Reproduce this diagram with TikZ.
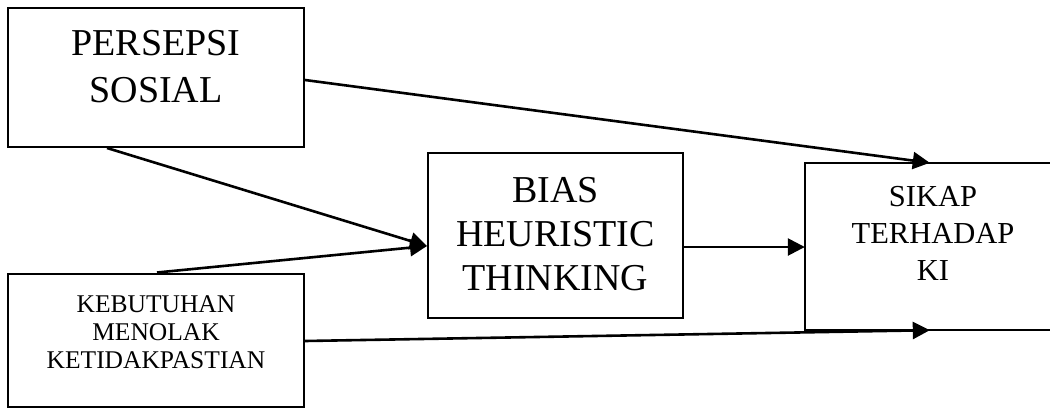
\documentclass[tikz,border=0pt]{standalone}
\usepackage{fontspec}
\setmainfont{Liberation Serif}
\usetikzlibrary{arrows.meta,calc}
\begin{document}
\begin{tikzpicture}[x=1pt,y=-1pt,
  box/.style={draw,line width=2pt,inner sep=0pt},
  lbl/.style={align=center,inner sep=0pt,anchor=north},
  arr/.style={line width=2.6pt,-{Triangle[length=17pt,width=17pt]}}]
\useasboundingbox (0,0) rectangle (1050,408);
% boxes
\node[box,minimum width=296pt,minimum height=139pt] (pers) at (156,77.5) {};
\node[box,minimum width=296pt,minimum height=133pt] (keb) at (156,340) {};
\node[box,minimum width=255pt,minimum height=165pt] (bias) at (555.5,235.5) {};
\node[inner sep=0pt,minimum width=245pt,minimum height=167pt] (sikap) at (927.5,246.5) {};
\draw[line width=2pt] (sikap.north east) -- (sikap.north west) -- (sikap.south west) -- (sikap.south east);
% labels
\node[lbl,font=\fontsize{38}{47}\selectfont] (tpers) at (156,29.8) {PERSEPSI\\SOSIAL};
\node[lbl,font=\fontsize{38}{44}\selectfont] (tbias) at (555.5,176.8) {BIAS\\HEURISTIC\\THINKING};
\node[lbl,font=\fontsize{30.5}{37}\selectfont] (tsikap) at (933,185.8) {SIKAP\\TERHADAP\\KI};
\node[lbl,font=\fontsize{25.5}{28}\selectfont] (tkeb) at (156,295.1) {KEBUTUHAN\\MENOLAK\\KETIDAKPASTIAN};
% connectors
\coordinate (tipA) at ($(sikap.north west)+(125,0)$);
\coordinate (tipB) at ([yshift=-10.5pt]bias.west);
\coordinate (tipC) at ($(sikap.south west)+(125,0)$);
\coordinate (startD) at ([yshift=-11.5pt]bias.east);
\draw[arr] ([yshift=-2.5pt]pers.east) -- (tipA);
\draw[arr] ($(pers.south west)+(100,0)$) -- (tipB);
\draw[arr] ($(keb.north west)+(150,0)$) -- (tipB);
\draw[arr] (startD) -- (sikap.west |- startD);
\draw[arr] ([yshift=-1pt]keb.east) -- (tipC);
\end{tikzpicture}
\end{document}
